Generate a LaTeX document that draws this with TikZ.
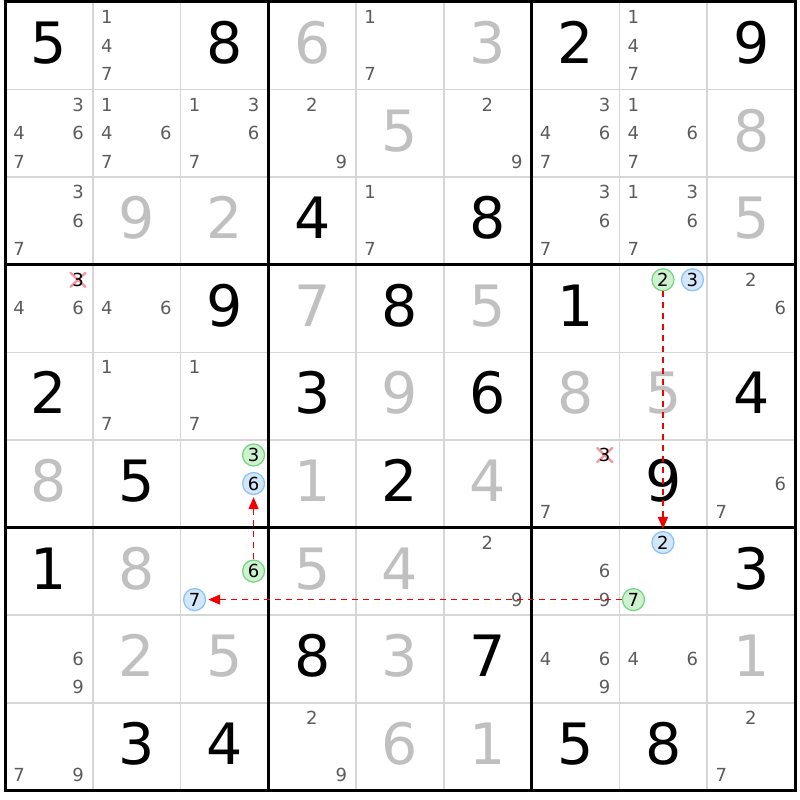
\documentclass[tikz,border=0pt]{standalone}
\usepackage{fontspec}
\setmainfont{DejaVu Sans}
\usetikzlibrary{arrows.meta}
\definecolor{candgray}{RGB}{92,92,92}
\definecolor{solvedgray}{RGB}{192,192,192}
\definecolor{thinline}{RGB}{214,214,214}
\definecolor{gfill}{RGB}{206,242,208}
\definecolor{gline}{RGB}{120,214,130}
\definecolor{bfill}{RGB}{212,230,250}
\definecolor{bline}{RGB}{140,196,245}
\definecolor{linkred}{RGB}{240,0,0}
\definecolor{xpink}{RGB}{245,150,160}
\newcommand\bigdigitfont{\fontsize{57}{57}\selectfont}
\newcommand\canddigitfont{\fontsize{18}{18}\selectfont}
\begin{document}
\begin{tikzpicture}[x=1pt,y=-1pt,
  thingrid/.style={draw=thinline,line width=1.6pt},
  thickgrid/.style={draw=black,line width=3pt},
  givendigit/.style={font=\bigdigitfont,text=black,inner sep=0pt,anchor=base},
  solveddigit/.style={font=\bigdigitfont,text=solvedgray,inner sep=0pt,anchor=base},
  canddigit/.style={font=\canddigitfont,text=candgray,inner sep=0pt},
  crosseddigit/.style={font=\canddigitfont,text=black,inner sep=0pt},
  gcirc/.style={circle,font=\canddigitfont,text=black,inner sep=0pt,minimum size=22pt,draw=gline,fill=gfill,line width=1.3pt},
  bcirc/.style={circle,font=\canddigitfont,text=black,inner sep=0pt,minimum size=22pt,draw=bline,fill=bfill,line width=1.3pt},
  xmark/.style={draw=xpink,line width=2.4pt,line cap=round},
  linkarrow/.style={draw=linkred,line width=1.4pt,dash pattern=on 6pt off 5pt,-{Triangle[length=12pt,width=10pt]},shorten >=2pt}
]
\useasboundingbox (0,0) rectangle (800,800);
\fill[white] (0,0) rectangle (800,800);
% thin grid lines
\foreach \i in {1,2,4,5,7,8} {
  \draw[thingrid] ({5+\i*87.78},2) -- ({5+\i*87.78},790.4);
  \draw[thingrid] (5,{2+\i*87.6}) -- (795,{2+\i*87.6});
}
% thick grid lines
\foreach \i in {0,3,6,9} {
  \draw[thickgrid] ({5+\i*87.78},0.5) -- ({5+\i*87.78},791.9);
  \draw[thickgrid] (3.5,{2+\i*87.6}) -- (796.5,{2+\i*87.6});
}
% given digits
\foreach \r/\c/\d in {0/0/5,0/2/8,0/6/2,0/8/9,2/3/4,2/5/8,3/2/9,3/4/8,3/6/1,4/0/2,4/3/3,4/5/6,4/8/4,5/1/5,5/4/2,5/7/9,6/0/1,6/8/3,7/3/8,7/5/7,8/1/3,8/2/4,8/6/5,8/7/8}
  \node[givendigit] (g\r\c) at ({5+\c*87.78+43.9},{2+\r*87.6+61.5}) {\d};
% solved digits
\foreach \r/\c/\d in {0/3/6,0/5/3,1/4/5,1/8/8,2/1/9,2/2/2,2/8/5,3/3/7,3/5/5,4/4/9,4/6/8,4/7/5,5/0/8,5/3/1,5/5/4,6/1/8,6/3/5,6/4/4,7/1/2,7/2/5,7/4/3,7/8/1,8/4/6,8/5/1}
  \node[solveddigit] (s\r\c) at ({5+\c*87.78+43.9},{2+\r*87.6+61.5}) {\d};
% candidates
\foreach \r/\c/\ds in {0/1/{1,4,7},0/4/{1,7},0/7/{1,4,7},
  1/0/{3,4,6,7},1/1/{1,4,6,7},1/2/{1,3,6,7},1/3/{2,9},1/5/{2,9},1/6/{3,4,6,7},1/7/{1,4,6,7},
  2/0/{3,6,7},2/4/{1,7},2/6/{3,6,7},2/7/{1,3,6,7},
  3/0/{4,6},3/1/{4,6},3/8/{2,6},
  4/1/{1,7},4/2/{1,7},
  5/6/{7},5/8/{6,7},
  6/5/{2,9},6/6/{6,9},
  7/0/{6,9},7/6/{4,6,9},7/7/{4,6},
  8/0/{7,9},8/3/{2,9},8/8/{2,7}}
  \foreach \d in \ds
    \node[canddigit] (c\r\c\d) at ({5+\c*87.78+14+mod(\d-1,3)*29.5},{2+\r*87.6+15+int((\d-1)/3)*28.5}) {\d};
% crossed candidates
\foreach \r/\c/\d in {3/0/3,5/6/3} {
  \coordinate (k\r\c\d) at ({5+\c*87.78+14+mod(\d-1,3)*29.5},{2+\r*87.6+15+int((\d-1)/3)*28.5});
  \draw[xmark] (k\r\c\d) +(-7.5,-7) -- +(7.5,7) (k\r\c\d) +(-7.5,7) -- +(7.5,-7);
  \node[crosseddigit] (c\r\c\d) at (k\r\c\d) {\d};
}
% circled candidates
\foreach \r/\c/\d/\st in {3/7/2/gcirc,3/7/3/bcirc,5/2/3/gcirc,5/2/6/bcirc,6/2/6/gcirc,6/2/7/bcirc,6/7/2/bcirc,6/7/7/gcirc}
  \node[\st] (c\r\c\d) at ({5+\c*87.78+14+mod(\d-1,3)*29.5},{2+\r*87.6+15+int((\d-1)/3)*28.5}) {\d};
% links
\draw[linkarrow] (c372) -- (c672);
\draw[linkarrow] (c626) -- (c526);
\draw[linkarrow] (c677) -- (c627);
\end{tikzpicture}
\end{document}
